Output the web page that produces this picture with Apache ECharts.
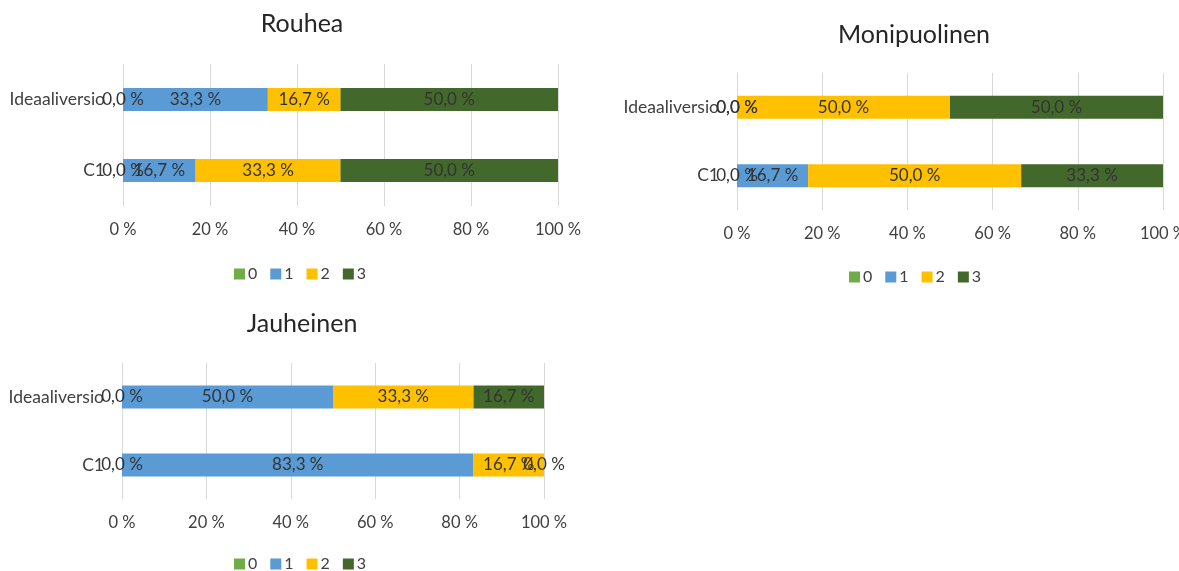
<!DOCTYPE html>
<html>
<head>
<meta charset="utf-8">
<script src="https://cdn.jsdelivr.net/npm/echarts@6/dist/echarts.min.js"></script>
<style>
html,body{margin:0;padding:0;background:#fff;}
#chart{width:1179px;height:571px;}
</style>
</head>
<body>
<div id="chart"></div>
<script>
const categories = ['C1', 'Ideaaliversio'];
const seriesNames = ['0', '1', '2', '3'];
const xTicks = [0, 20, 40, 60, 80, 100];
const chartTitles = ['Rouhea', 'Monipuolinen', 'Jauheinen'];

// values per chart, per series, ordered as categories [C1, Ideaaliversio]
const rouhea0 = [0.0, 0.0];
const rouhea1 = [16.7, 33.3];
const rouhea2 = [33.3, 16.7];
const rouhea3 = [50.0, 50.0];

const monipuolinen0 = [0.0, 0.0];
const monipuolinen1 = [16.7, 0.0];
const monipuolinen2 = [50.0, 50.0];
const monipuolinen3 = [33.3, 50.0];

const jauheinen0 = [0.0, 0.0];
const jauheinen1 = [83.3, 50.0];
const jauheinen2 = [16.7, 33.3];
const jauheinen3 = [0.0, 16.7];

const chartData = [
  [rouhea0, rouhea1, rouhea2, rouhea3],
  [monipuolinen0, monipuolinen1, monipuolinen2, monipuolinen3],
  [jauheinen0, jauheinen1, jauheinen2, jauheinen3]
];

const colors = ['#70AD47', '#5B9BD5', '#FFC000', '#43682B'];
const FONT = 'Lato';
const TXT = '#404040';

const layouts = [
  {grid: {left: 123, top: 64, width: 435, height: 142}, title: {x: 297, y: 6}, legend: {x: 297, y: 261}},
  {grid: {left: 737, top: 73, width: 426, height: 137}, title: {x: 909, y: 17}, legend: {x: 912, y: 264}},
  {grid: {left: 122, top: 363, width: 422, height: 136}, title: {x: 297, y: 306}, legend: {x: 297, y: 551}}
];

const fmt = v => v.toFixed(1).replace('.', ',') + ' %';

const option = {
  animation: false,
  color: colors,
  textStyle: {fontFamily: FONT},
  title: layouts.map((l, i) => ({
    text: chartTitles[i],
    left: l.title.x, top: l.title.y,
    textAlign: 'center',
    textStyle: {fontFamily: FONT, fontSize: 25, fontWeight: 'normal', color: '#262626'}
  })),
  legend: layouts.map(l => ({
    data: seriesNames,
    left: l.legend.x - 68, top: l.legend.y,
    itemWidth: 11, itemHeight: 11, itemGap: 13,
    icon: 'rect',
    textStyle: {fontFamily: FONT, fontSize: 16, color: TXT, padding: [0, 0, 0, -2]}
  })),
  grid: layouts.map(l => Object.assign({outerBoundsMode: 'none', containLabel: false}, l.grid)),
  xAxis: layouts.map((l, i) => ({
    type: 'value', gridIndex: i, min: 0, max: 100, interval: 20,
    axisLine: {show: false}, axisTick: {show: false},
    splitLine: {show: true, lineStyle: {color: '#D9D9D9', width: 1}},
    axisLabel: {
      margin: 15, fontFamily: FONT, fontSize: 16.5, color: TXT,
      formatter: v => xTicks.includes(v) ? v + ' %' : ''
    }
  })),
  yAxis: layouts.map((l, i) => ({
    type: 'category', gridIndex: i, data: categories,
    axisLine: {show: false}, axisTick: {show: false},
    axisLabel: {margin: 18, fontFamily: FONT, fontSize: 17.5, color: TXT}
  })),
  series: []
};

chartData.forEach((chart, ci) => {
  chart.forEach((vals, si) => {
    option.series.push({
      type: 'bar',
      name: seriesNames[si],
      xAxisIndex: ci, yAxisIndex: ci,
      stack: 'chart' + ci,
      barWidth: 23,
      data: vals,
      itemStyle: {color: colors[si]},
      label: {
        show: true, position: 'inside',
        fontFamily: FONT, fontSize: 17, color: '#333333',
        formatter: p => fmt(p.value)
      }
    });
  });
});

const chart = echarts.init(document.getElementById('chart'));
chart.setOption(option);
</script>
</body>
</html>
